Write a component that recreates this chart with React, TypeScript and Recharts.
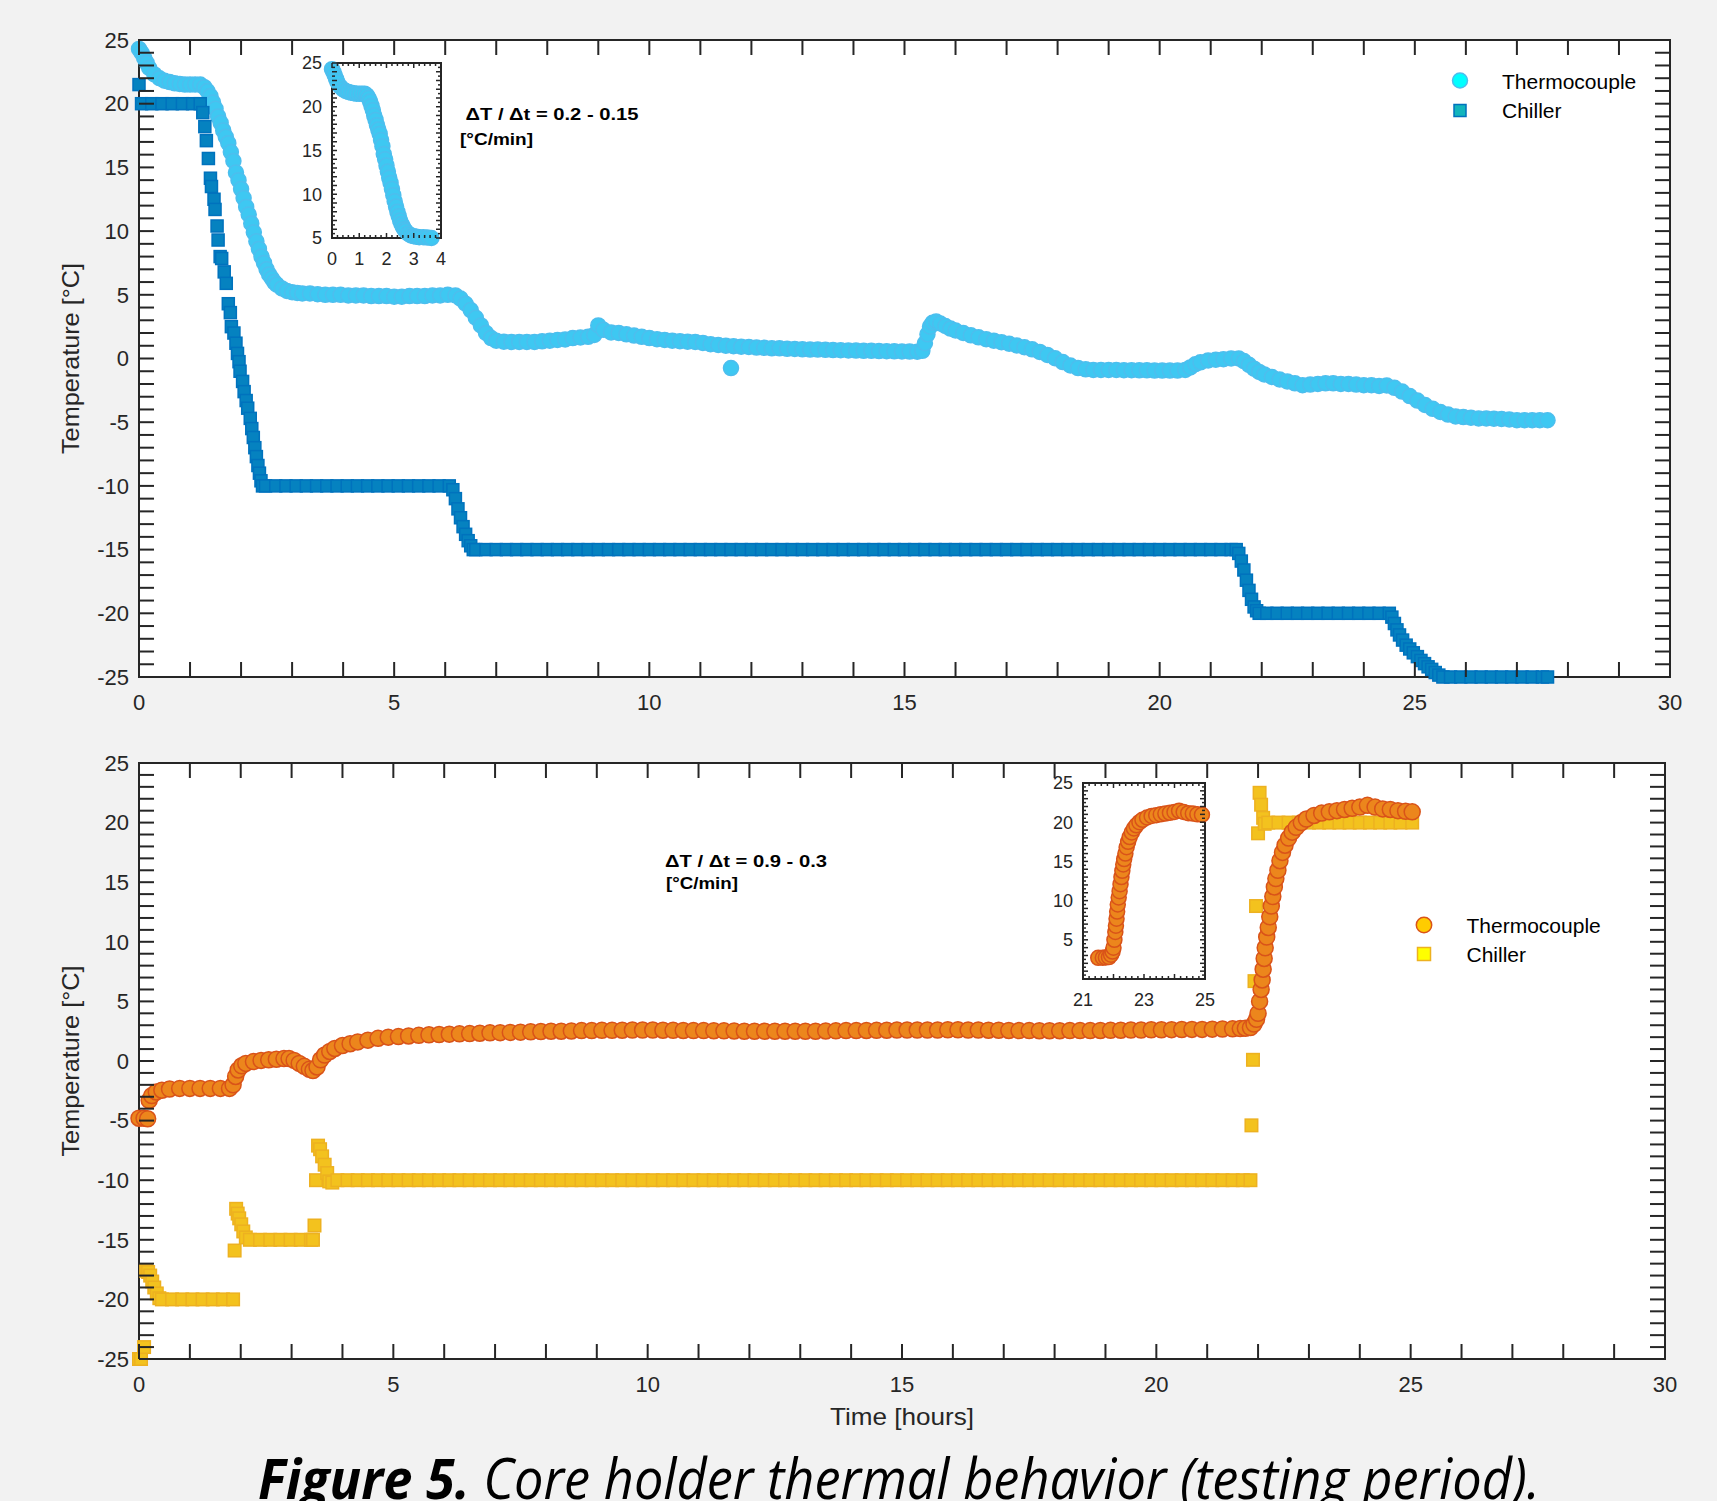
import React from 'react';
import { ScatterChart, Scatter, XAxis, YAxis } from 'recharts';

const INK = '#262626';
const FONT = '"Liberation Sans", Arial, sans-serif';

// [time in hours, temperature in °C]
const topThermocouple: [number, number][] = [
  [0, 24.3], [0.05, 24.0], [0.1, 23.6], [0.15, 23.2], [0.2, 22.8], [0.3, 22.3], [0.4, 22.0], [0.5, 21.8],
  [0.6, 21.7], [0.7, 21.6], [0.8, 21.55], [0.9, 21.5], [1.0, 21.5], [1.1, 21.5], [1.2, 21.5], [1.28, 21.3],
  [1.34, 21.0], [1.4, 20.6], [1.45, 20.1], [1.5, 19.6], [1.55, 19.0], [1.6, 18.5], [1.65, 17.9], [1.7, 17.4],
  [1.75, 16.9], [1.8, 16.2], [1.85, 15.5], [1.9, 14.6], [1.95, 14.0], [2.0, 13.3], [2.05, 12.6], [2.1, 11.9],
  [2.15, 11.3], [2.2, 10.6], [2.25, 9.9], [2.3, 9.2], [2.35, 8.6], [2.4, 8.0], [2.45, 7.5], [2.5, 7.0],
  [2.55, 6.6], [2.6, 6.3], [2.65, 6.0], [2.7, 5.8], [2.8, 5.5], [2.9, 5.3], [3.0, 5.2], [3.1, 5.15],
  [3.2, 5.1], [3.35, 5.1], [3.5, 5.05], [3.65, 5.0], [3.8, 5.0], [3.95, 5.0], [4.1, 4.95], [4.25, 4.95],
  [4.4, 4.95], [4.55, 4.9], [4.7, 4.9], [4.85, 4.9], [5.0, 4.85], [5.15, 4.85], [5.3, 4.9], [5.45, 4.9],
  [5.6, 4.9], [5.75, 4.95], [5.9, 4.95], [6.05, 5.0], [6.2, 4.95], [6.3, 4.7], [6.4, 4.3], [6.5, 3.8],
  [6.6, 3.2], [6.7, 2.6], [6.8, 2.0], [6.9, 1.6], [7.0, 1.4], [7.15, 1.32], [7.3, 1.3], [7.45, 1.3],
  [7.6, 1.3], [7.75, 1.3], [7.9, 1.35], [8.05, 1.4], [8.2, 1.45], [8.35, 1.5], [8.5, 1.6], [8.65, 1.65],
  [8.8, 1.7], [8.92, 1.85], [9.0, 2.6], [9.1, 2.25], [9.25, 2.05], [9.4, 2.0], [9.55, 1.9], [9.7, 1.8],
  [9.85, 1.7], [10.0, 1.6], [10.15, 1.52], [10.3, 1.46], [10.45, 1.4], [10.6, 1.36], [10.75, 1.32], [10.9, 1.3],
  [11.05, 1.22], [11.2, 1.12], [11.35, 1.06], [11.5, 1.0], [11.6, -0.75], [11.65, 0.96], [11.8, 0.92], [11.95, 0.9],
  [12.1, 0.86], [12.25, 0.84], [12.4, 0.8], [12.55, 0.8], [12.7, 0.76], [12.85, 0.75], [13.0, 0.72], [13.15, 0.7],
  [13.3, 0.7], [13.45, 0.68], [13.6, 0.66], [13.75, 0.65], [13.9, 0.63], [14.05, 0.62], [14.2, 0.6], [14.35, 0.6],
  [14.5, 0.58], [14.65, 0.57], [14.8, 0.56], [14.95, 0.55], [15.1, 0.54], [15.25, 0.53], [15.35, 0.6], [15.4, 1.2],
  [15.45, 1.9], [15.5, 2.5], [15.55, 2.8], [15.62, 2.9], [15.7, 2.75], [15.8, 2.55], [15.9, 2.35], [16.0, 2.2],
  [16.15, 2.0], [16.3, 1.82], [16.45, 1.66], [16.6, 1.52], [16.75, 1.4], [16.9, 1.28], [17.05, 1.16], [17.2, 1.02],
  [17.35, 0.88], [17.5, 0.72], [17.65, 0.52], [17.8, 0.28], [17.95, 0.02], [18.1, -0.28], [18.25, -0.55], [18.4, -0.75],
  [18.55, -0.85], [18.7, -0.9], [18.85, -0.9], [19.0, -0.9], [19.15, -0.9], [19.3, -0.92], [19.45, -0.92], [19.6, -0.93],
  [19.75, -0.93], [19.9, -0.95], [20.05, -0.95], [20.2, -0.95], [20.35, -0.95], [20.5, -0.9], [20.6, -0.7], [20.7, -0.45],
  [20.8, -0.3], [20.95, -0.15], [21.1, -0.1], [21.25, -0.05], [21.4, 0.0], [21.55, 0.0], [21.65, -0.2], [21.75, -0.5],
  [21.85, -0.8], [21.95, -1.05], [22.05, -1.25], [22.2, -1.45], [22.35, -1.65], [22.5, -1.8], [22.65, -1.95], [22.8, -2.1],
  [22.95, -2.05], [23.1, -2.0], [23.25, -1.95], [23.4, -1.95], [23.55, -2.0], [23.7, -2.0], [23.85, -2.05], [24.0, -2.1],
  [24.15, -2.1], [24.3, -2.15], [24.45, -2.12], [24.6, -2.3], [24.75, -2.6], [24.9, -2.95], [25.05, -3.3], [25.2, -3.65],
  [25.35, -3.95], [25.5, -4.2], [25.65, -4.4], [25.8, -4.55], [25.95, -4.6], [26.1, -4.65], [26.25, -4.7], [26.4, -4.7],
  [26.55, -4.72], [26.7, -4.75], [26.85, -4.78], [27.0, -4.85], [27.15, -4.85], [27.3, -4.85], [27.45, -4.85], [27.6, -4.85],
];

const topChiller: [number, number][] = [
  [0, 21.5], [0.05, 20], [0.25, 20], [0.45, 20], [0.65, 20], [0.85, 20], [1.05, 20], [1.2, 20],
  [1.25, 19.3], [1.29, 18.2], [1.32, 17.1], [1.36, 15.7], [1.4, 14.15], [1.42, 13.5], [1.47, 12.5], [1.49, 11.7],
  [1.53, 10.4], [1.55, 9.3], [1.59, 8.0], [1.62, 7.85], [1.67, 6.8], [1.71, 5.9], [1.75, 4.3], [1.79, 3.6],
  [1.81, 2.5], [1.86, 2.0], [1.9, 1.2], [1.93, 0.4], [1.96, -0.25], [1.98, -1.0], [2.03, -1.8], [2.06, -2.6],
  [2.1, -3.3], [2.13, -3.9], [2.18, -4.7], [2.21, -5.5], [2.24, -6.2], [2.27, -7.0], [2.3, -7.7], [2.33, -8.4],
  [2.36, -9.0], [2.39, -9.6], [2.42, -10],
  [2.48, -10], [2.68, -10], [2.88, -10], [3.08, -10], [3.28, -10], [3.48, -10], [3.68, -10], [3.88, -10],
  [4.08, -10], [4.28, -10], [4.48, -10], [4.68, -10], [4.88, -10], [5.08, -10], [5.28, -10], [5.48, -10],
  [5.68, -10], [5.88, -10], [6.08, -10], [6.15, -10.3], [6.2, -11.0], [6.25, -11.8], [6.3, -12.5], [6.35, -13.2],
  [6.4, -13.8], [6.45, -14.3], [6.5, -14.7], [6.55, -15],
  [6.6, -15], [6.8, -15], [7.0, -15], [7.2, -15], [7.4, -15], [7.6, -15], [7.8, -15], [8.0, -15],
  [8.2, -15], [8.4, -15], [8.6, -15], [8.8, -15], [9.0, -15], [9.2, -15], [9.4, -15], [9.6, -15],
  [9.8, -15], [10.0, -15], [10.2, -15], [10.4, -15], [10.6, -15], [10.8, -15], [11.0, -15], [11.2, -15],
  [11.4, -15], [11.6, -15], [11.8, -15], [12.0, -15], [12.2, -15], [12.4, -15], [12.6, -15], [12.8, -15],
  [13.0, -15], [13.2, -15], [13.4, -15], [13.6, -15], [13.8, -15], [14.0, -15], [14.2, -15], [14.4, -15],
  [14.6, -15], [14.8, -15], [15.0, -15], [15.2, -15], [15.4, -15], [15.6, -15], [15.8, -15], [16.0, -15],
  [16.2, -15], [16.4, -15], [16.6, -15], [16.8, -15], [17.0, -15], [17.2, -15], [17.4, -15], [17.6, -15],
  [17.8, -15], [18.0, -15], [18.2, -15], [18.4, -15], [18.6, -15], [18.8, -15], [19.0, -15], [19.2, -15],
  [19.4, -15], [19.6, -15], [19.8, -15], [20.0, -15], [20.2, -15], [20.4, -15], [20.6, -15], [20.8, -15],
  [21.0, -15], [21.2, -15], [21.4, -15], [21.5, -15],
  [21.55, -15.3], [21.6, -15.9], [21.65, -16.6], [21.7, -17.4], [21.75, -18.2], [21.8, -18.9], [21.85, -19.5], [21.9, -19.8],
  [21.95, -20], [22.1, -20], [22.3, -20], [22.5, -20], [22.7, -20], [22.9, -20], [23.1, -20], [23.3, -20],
  [23.5, -20], [23.7, -20], [23.9, -20], [24.1, -20], [24.3, -20], [24.5, -20],
  [24.55, -20.3], [24.6, -20.8], [24.65, -21.3], [24.7, -21.7], [24.76, -22.1], [24.83, -22.5], [24.9, -22.8], [24.97, -23.1],
  [25.05, -23.4], [25.12, -23.7], [25.19, -23.95], [25.26, -24.2], [25.33, -24.4], [25.4, -24.65], [25.47, -24.85], [25.55, -25],
  [25.7, -25], [25.9, -25], [26.1, -25], [26.3, -25], [26.5, -25], [26.7, -25], [26.9, -25], [27.1, -25],
  [27.3, -25], [27.5, -25], [27.6, -25],
];

const bottomThermocouple: [number, number][] = [
  [0, -4.8], [0.1, -4.8], [0.17, -4.85], [0.2, -3.3], [0.25, -2.9], [0.34, -2.6], [0.45, -2.45], [0.6, -2.35],
  [0.8, -2.3], [1.0, -2.3], [1.2, -2.3], [1.4, -2.3], [1.6, -2.3], [1.78, -2.3], [1.85, -2.0], [1.9, -1.3],
  [1.95, -0.75], [2.02, -0.4], [2.1, -0.2], [2.25, -0.05], [2.4, 0.05], [2.55, 0.1], [2.7, 0.15], [2.85, 0.2],
  [2.95, 0.2], [3.05, 0.05], [3.15, -0.2], [3.25, -0.45], [3.35, -0.7], [3.42, -0.8], [3.5, -0.5], [3.57, 0.1],
  [3.65, 0.5], [3.75, 0.8], [3.85, 1.05], [4.0, 1.3], [4.15, 1.45], [4.3, 1.6], [4.5, 1.75], [4.7, 1.9],
  [4.9, 2.0], [5.1, 2.05], [5.3, 2.1], [5.5, 2.15], [5.7, 2.2], [5.9, 2.22], [6.1, 2.25], [6.3, 2.28],
  [6.5, 2.3], [6.7, 2.33], [6.9, 2.36], [7.1, 2.38], [7.3, 2.4], [7.5, 2.42], [7.7, 2.45], [7.9, 2.47],
  [8.1, 2.5], [8.3, 2.5], [8.5, 2.52], [8.7, 2.55], [8.9, 2.55], [9.1, 2.57], [9.3, 2.57], [9.5, 2.58],
  [9.7, 2.6], [9.9, 2.6], [10.1, 2.6], [10.3, 2.58], [10.5, 2.57], [10.7, 2.56], [10.9, 2.55], [11.1, 2.55],
  [11.3, 2.54], [11.5, 2.53], [11.7, 2.52], [11.9, 2.5], [12.1, 2.5], [12.3, 2.5], [12.5, 2.5], [12.7, 2.5],
  [12.9, 2.5], [13.1, 2.5], [13.3, 2.5], [13.5, 2.52], [13.7, 2.53], [13.9, 2.55], [14.1, 2.55], [14.3, 2.56],
  [14.5, 2.57], [14.7, 2.58], [14.9, 2.6], [15.1, 2.6], [15.3, 2.6], [15.5, 2.6], [15.7, 2.6], [15.9, 2.62],
  [16.1, 2.62], [16.3, 2.6], [16.5, 2.6], [16.7, 2.58], [16.9, 2.58], [17.1, 2.56], [17.3, 2.55], [17.5, 2.55],
  [17.7, 2.54], [17.9, 2.54], [18.1, 2.54], [18.3, 2.55], [18.5, 2.55], [18.7, 2.55], [18.9, 2.56], [19.1, 2.57],
  [19.3, 2.58], [19.5, 2.6], [19.7, 2.6], [19.9, 2.62], [20.1, 2.62], [20.3, 2.63], [20.5, 2.64], [20.7, 2.65],
  [20.9, 2.65], [21.1, 2.67], [21.3, 2.68], [21.5, 2.7], [21.65, 2.72], [21.75, 2.75], [21.85, 2.8], [21.92, 3.1],
  [21.97, 3.5], [22.0, 4.0], [22.03, 5.0], [22.06, 6.0], [22.08, 6.8], [22.1, 7.7], [22.12, 8.6], [22.14, 9.5],
  [22.17, 10.4], [22.2, 11.2], [22.23, 12.1], [22.26, 13.0], [22.29, 13.8], [22.32, 14.6], [22.35, 15.3], [22.39, 16.0],
  [22.43, 16.8], [22.48, 17.5], [22.53, 18.1], [22.6, 18.7], [22.67, 19.2], [22.75, 19.6], [22.85, 20.0], [22.95, 20.3],
  [23.1, 20.6], [23.25, 20.8], [23.4, 20.9], [23.55, 21.0], [23.7, 21.1], [23.85, 21.2], [24.0, 21.3], [24.15, 21.45],
  [24.3, 21.3], [24.45, 21.15], [24.6, 21.1], [24.75, 21.0], [24.9, 20.95], [25.03, 20.9],
];

const bottomChiller: [number, number][] = [
  [0, -25], [0.04, -25], [0.1, -24], [0.14, -17.6], [0.18, -17.7], [0.22, -18.0], [0.26, -18.5], [0.3, -19.0],
  [0.35, -19.5], [0.4, -19.9], [0.45, -20], [0.65, -20], [0.85, -20], [1.05, -20], [1.25, -20], [1.45, -20],
  [1.65, -20], [1.85, -20], [1.88, -15.9], [1.91, -12.4], [1.94, -12.8], [1.97, -13.2], [2.01, -13.7], [2.05, -14.3],
  [2.1, -14.8], [2.18, -15], [2.38, -15], [2.58, -15], [2.78, -15], [2.98, -15], [3.18, -15], [3.38, -15],
  [3.42, -15], [3.45, -13.8], [3.48, -10.0], [3.52, -7.1], [3.56, -7.4], [3.6, -8.0], [3.65, -8.7], [3.7, -9.4],
  [3.74, -10.1], [3.8, -10.2],
  [3.9, -10], [4.1, -10], [4.3, -10], [4.5, -10], [4.7, -10], [4.9, -10], [5.1, -10], [5.3, -10],
  [5.5, -10], [5.7, -10], [5.9, -10], [6.1, -10], [6.3, -10], [6.5, -10], [6.7, -10], [6.9, -10],
  [7.1, -10], [7.3, -10], [7.5, -10], [7.7, -10], [7.9, -10], [8.1, -10], [8.3, -10], [8.5, -10],
  [8.7, -10], [8.9, -10], [9.1, -10], [9.3, -10], [9.5, -10], [9.7, -10], [9.9, -10], [10.1, -10],
  [10.3, -10], [10.5, -10], [10.7, -10], [10.9, -10], [11.1, -10], [11.3, -10], [11.5, -10], [11.7, -10],
  [11.9, -10], [12.1, -10], [12.3, -10], [12.5, -10], [12.7, -10], [12.9, -10], [13.1, -10], [13.3, -10],
  [13.5, -10], [13.7, -10], [13.9, -10], [14.1, -10], [14.3, -10], [14.5, -10], [14.7, -10], [14.9, -10],
  [15.1, -10], [15.3, -10], [15.5, -10], [15.7, -10], [15.9, -10], [16.1, -10], [16.3, -10], [16.5, -10],
  [16.7, -10], [16.9, -10], [17.1, -10], [17.3, -10], [17.5, -10], [17.7, -10], [17.9, -10], [18.1, -10],
  [18.3, -10], [18.5, -10], [18.7, -10], [18.9, -10], [19.1, -10], [19.3, -10], [19.5, -10], [19.7, -10],
  [19.9, -10], [20.1, -10], [20.3, -10], [20.5, -10], [20.7, -10], [20.9, -10], [21.1, -10], [21.3, -10],
  [21.5, -10], [21.7, -10], [21.85, -10],
  [21.87, -5.4], [21.9, 0.1], [21.93, 6.7], [21.96, 13.0], [22.0, 19.1], [22.03, 22.5], [22.06, 21.5], [22.1, 20.4],
  [22.13, 19.9], [22.2, 20], [22.4, 20], [22.6, 20], [22.8, 20], [23.0, 20], [23.2, 20], [23.4, 20],
  [23.6, 20], [23.8, 20], [24.0, 20], [24.2, 20], [24.4, 20], [24.6, 20], [24.8, 20], [25.03, 20],
];

const mainXLabels = [0, 5, 10, 15, 20, 25, 30];
const mainYLabels = [-25, -20, -15, -10, -5, 0, 5, 10, 15, 20, 25];
const topInsetXLabels = [0, 1, 2, 3, 4];
const topInsetYLabels = [5, 10, 15, 20, 25];
const bottomInsetXLabels = [21, 23, 25];
const bottomInsetYLabels = [5, 10, 15, 20, 25];

const range = (a: number, b: number, step: number) => {
  const out: number[] = [];
  const n = Math.round((b - a) / step);
  for (let i = 0; i <= n; i++) out.push(Math.round((a + i * step) * 1000) / 1000);
  return out;
};

const pts = (arr: [number, number][]) => arr.map(([t, v]) => ({ t, v }));

type Box = { left: number; right: number; top: number; bottom: number };

type TickOpts = {
  box: Box;
  labels: number[];
  major: number;
  minor: number;
  fontSize: number;
  offset: number;
  width: number;
};

const makeXTick = (o: TickOpts) => (props: any) => {
  const { x, payload } = props;
  const v = payload.value;
  const isMajor = o.labels.includes(v) || Number.isInteger(v);
  const len = isMajor ? o.major : o.minor;
  return (
    <g>
      <line x1={x} x2={x} y1={o.box.bottom} y2={o.box.bottom - len} stroke={INK} strokeWidth={o.width} />
      <line x1={x} x2={x} y1={o.box.top} y2={o.box.top + len} stroke={INK} strokeWidth={o.width} />
      {o.labels.includes(v) && (
        <text x={x} y={o.box.bottom + o.offset} textAnchor="middle" fontSize={o.fontSize} fill={INK} fontFamily={FONT}>
          {v}
        </text>
      )}
    </g>
  );
};

const makeYTick = (o: TickOpts) => (props: any) => {
  const { y, payload } = props;
  const v = payload.value;
  const isMajor = o.labels.includes(v) || Number.isInteger(v);
  const len = isMajor ? o.major : o.minor;
  return (
    <g>
      <line x1={o.box.left} x2={o.box.left + len} y1={y} y2={y} stroke={INK} strokeWidth={o.width} />
      <line x1={o.box.right} x2={o.box.right - len} y1={y} y2={y} stroke={INK} strokeWidth={o.width} />
      {o.labels.includes(v) && (
        <text x={o.box.left - o.offset} y={y} dy="0.35em" textAnchor="end" fontSize={o.fontSize} fill={INK} fontFamily={FONT}>
          {v}
        </text>
      )}
    </g>
  );
};

const circle = (r: number, fill: string, stroke: string) => (p: any) => (
  <circle cx={p.cx} cy={p.cy} r={r} fill={fill} stroke={stroke} strokeWidth={1.5} />
);
const square = (s: number, fill: string, stroke: string) => (p: any) => (
  <rect x={p.cx - s / 2} y={p.cy - s / 2} width={s} height={s} fill={fill} stroke={stroke} strokeWidth={1.5} />
);

const Frame = ({ box, w = 2 }: { box: Box; w?: number }) => (
  <div
    style={{
      position: 'absolute',
      left: box.left - w / 2,
      top: box.top - w / 2,
      width: box.right - box.left + w,
      height: box.bottom - box.top + w,
      boxSizing: 'border-box',
      border: `${w}px solid ${INK}`,
      background: '#ffffff',
    }}
  />
);

// page coordinates of the plot boxes
const TOP: Box = { left: 139, right: 1670, top: 40, bottom: 677 };
const BOT: Box = { left: 139, right: 1665, top: 763, bottom: 1359 };
const TOP_INSET: Box = { left: 332, right: 441, top: 63, bottom: 238 };
const BOT_INSET: Box = { left: 1083, right: 1205, top: 783, bottom: 979 };

// series fills are a little toward the edge colour: the real samples are much denser
const TC_TOP = { fill: '#3EC8F2', edge: '#4DBEEE' };
const CH_TOP = { fill: '#0582C0', edge: '#0072BD' };
const TC_BOT = { fill: '#EC861C', edge: '#D95319' };
const CH_BOT = { fill: '#F3C21E', edge: '#EDB120' };

const Y_AXIS_W = 60;
const X_AXIS_H = 40;

function MainChart({ box, y0, height, right, children }: any) {
  const local: Box = { left: box.left, right: box.right, top: box.top - y0, bottom: box.bottom - y0 };
  const xo = { box: local, labels: mainXLabels, major: 15, minor: 8, fontSize: 22, offset: 33, width: 2 };
  const yo = { box: local, labels: mainYLabels, major: 15, minor: 8, fontSize: 22, offset: 10, width: 2 };
  return (
    <div style={{ position: 'absolute', left: 0, top: y0 }}>
      <ScatterChart
        width={1717}
        height={height}
        margin={{ top: local.top, right, bottom: height - local.bottom - X_AXIS_H, left: box.left - Y_AXIS_W }}
      >
        <XAxis type="number" dataKey="t" domain={[0, 30]} ticks={range(0, 30, 1)} interval={0} height={X_AXIS_H}
          tickSize={0} tickMargin={0} axisLine={false} tickLine={false} tick={makeXTick(xo)} />
        <YAxis type="number" dataKey="v" domain={[-25, 25]} ticks={range(-25, 25, 1)} interval={0} width={Y_AXIS_W}
          tickSize={0} tickMargin={0} axisLine={false} tickLine={false} tick={makeYTick(yo)} />
        {children}
      </ScatterChart>
    </div>
  );
}

function InsetChart({ box, xDomain, yDomain, xTicks, yTicks, xLabels, yLabels, children }: any) {
  const w = 50 + (box.right - box.left) + 10;
  const h = 10 + (box.bottom - box.top) + X_AXIS_H;
  const local: Box = { left: 50, right: 50 + box.right - box.left, top: 10, bottom: 10 + box.bottom - box.top };
  const xo = { box: local, labels: xLabels, major: 5, minor: 3, fontSize: 18, offset: 27, width: 1.5 };
  const yo = { box: local, labels: yLabels, major: 5, minor: 3, fontSize: 18, offset: 10, width: 1.5 };
  return (
    <div style={{ position: 'absolute', left: box.left - 50, top: box.top - 10 }}>
      <ScatterChart width={w} height={h} margin={{ top: 10, right: 10, bottom: 0, left: 0 }}>
        <XAxis type="number" dataKey="t" domain={xDomain} ticks={xTicks} interval={0} height={X_AXIS_H}
          tickSize={0} tickMargin={0} axisLine={false} tickLine={false} tick={makeXTick(xo)} />
        <YAxis type="number" dataKey="v" domain={yDomain} ticks={yTicks} interval={0} width={50}
          tickSize={0} tickMargin={0} axisLine={false} tickLine={false} tick={makeYTick(yo)} />
        {children}
      </ScatterChart>
    </div>
  );
}

const txt = { fontFamily: FONT, fill: '#000' };

export default function App() {
  const topTc = pts(topThermocouple);
  const topCh = pts(topChiller);
  const botTc = pts(bottomThermocouple);
  const botCh = pts(bottomChiller);

  return (
    <div style={{ position: 'absolute', left: 0, top: 0, width: 1717, height: 1501, background: '#f2f2f2', overflow: 'hidden' }}>
      <Frame box={TOP} />
      <Frame box={BOT} />

      <MainChart box={TOP} y0={0} height={720} right={1717 - TOP.right}>
        <Scatter data={topTc} isAnimationActive={false} shape={circle(7.5, TC_TOP.fill, TC_TOP.edge)} />
        <Scatter data={topCh} isAnimationActive={false} shape={square(12, CH_TOP.fill, CH_TOP.edge)} />
      </MainChart>

      <MainChart box={BOT} y0={720} height={720} right={1717 - BOT.right}>
        <Scatter data={botCh} isAnimationActive={false} shape={square(12.5, CH_BOT.fill, CH_BOT.edge)} />
        <Scatter data={botTc} isAnimationActive={false} shape={circle(8, TC_BOT.fill, TC_BOT.edge)} />
      </MainChart>

      <Frame box={TOP_INSET} />
      <InsetChart box={TOP_INSET} xDomain={[0, 4]} yDomain={[5, 25]} xTicks={range(0, 4, 0.2)} yTicks={range(5, 25, 0.5)}
        xLabels={topInsetXLabels} yLabels={topInsetYLabels}>
        <Scatter data={topTc.filter((d) => d.t <= 3.7)} isAnimationActive={false} shape={circle(7.5, TC_TOP.fill, TC_TOP.edge)} />
      </InsetChart>

      <Frame box={BOT_INSET} />
      <InsetChart box={BOT_INSET} xDomain={[21, 25]} yDomain={[0, 25]} xTicks={range(21, 25, 0.2)} yTicks={range(0, 25, 0.5)}
        xLabels={bottomInsetXLabels} yLabels={bottomInsetYLabels}>
        <Scatter data={botTc.filter((d) => d.t >= 21.5 && d.t <= 25)} isAnimationActive={false} shape={circle(7.5, TC_BOT.fill, TC_BOT.edge)} />
      </InsetChart>

      <svg width={1717} height={1501} style={{ position: 'absolute', left: 0, top: 0, pointerEvents: 'none' }}>
        {/* axis titles */}
        <text transform="translate(71 358.5) rotate(-90)" textAnchor="middle" dy="0.35em" fontSize={24} textLength={191}
          lengthAdjust="spacingAndGlyphs" fontFamily={FONT} fill={INK}>Temperature [°C]</text>
        <text transform="translate(71 1061) rotate(-90)" textAnchor="middle" dy="0.35em" fontSize={24} textLength={191}
          lengthAdjust="spacingAndGlyphs" fontFamily={FONT} fill={INK}>Temperature [°C]</text>
        <text x={902} y={1425} textAnchor="middle" fontSize={24} textLength={144} lengthAdjust="spacingAndGlyphs"
          fontFamily={FONT} fill={INK}>Time [hours]</text>

        {/* rate notes */}
        <text x={465.5} y={120} fontSize={16} fontWeight="bold" textLength={173} lengthAdjust="spacingAndGlyphs" {...txt}>ΔT / Δt = 0.2 - 0.15</text>
        <text x={460} y={145} fontSize={16} fontWeight="bold" textLength={73} lengthAdjust="spacingAndGlyphs" {...txt}>[°C/min]</text>
        <text x={665} y={867} fontSize={16} fontWeight="bold" textLength={162} lengthAdjust="spacingAndGlyphs" {...txt}>ΔT / Δt = 0.9 - 0.3</text>
        <text x={666} y={889} fontSize={16} fontWeight="bold" textLength={72} lengthAdjust="spacingAndGlyphs" {...txt}>[°C/min]</text>

        {/* legends */}
        <circle cx={1460} cy={80.5} r={7.5} fill="#00FFFF" stroke={TC_TOP.edge} strokeWidth={1.5} />
        <text x={1502} y={88.5} fontSize={21} {...txt}>Thermocouple</text>
        <rect x={1454} y={104.5} width={12} height={12} fill="#12B5BD" stroke={CH_TOP.edge} strokeWidth={1.5} />
        <text x={1502} y={118} fontSize={21} {...txt}>Chiller</text>

        <circle cx={1424} cy={925} r={7.7} fill="#FFCC00" stroke={TC_BOT.edge} strokeWidth={1.5} />
        <text x={1466.5} y={932.5} fontSize={21} {...txt}>Thermocouple</text>
        <rect x={1417.5} y={947.5} width={13} height={13} fill="#FFFF00" stroke={CH_BOT.edge} strokeWidth={1.5} />
        <text x={1466.5} y={961.5} fontSize={21} {...txt}>Chiller</text>

        {/* caption */}
        <text x={258} y={1499} fontSize={56} fontStyle="italic" fontFamily='"Open Sans", "Noto Sans", sans-serif' fill="#000"
          textLength={1282} lengthAdjust="spacingAndGlyphs">
          <tspan fontWeight="bold">Figure 5.</tspan> Core holder thermal behavior (testing period).
        </text>
      </svg>
    </div>
  );
}
